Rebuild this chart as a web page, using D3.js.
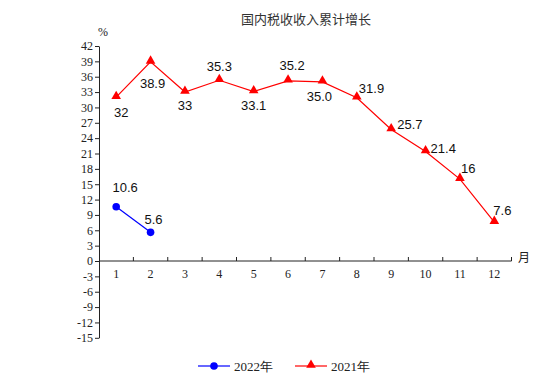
<!DOCTYPE html>
<html>
<head>
<meta charset="utf-8">
<script src="https://cdn.jsdelivr.net/npm/d3@7"></script>
<style>
  body { margin: 0; background: #fff; }
  svg { display: block; }
</style>
</head>
<body>
<script>
// data
var months = [1, 2, 3, 4, 5, 6, 7, 8, 9, 10, 11, 12];
var values2021 = [32, 38.9, 33, 35.3, 33.1, 35.2, 35.0, 31.9, 25.7, 21.4, 16, 7.6];
var labels2021 = ["32", "38.9", "33", "35.3", "33.1", "35.2", "35.0", "31.9", "25.7", "21.4", "16", "7.6"];
var values2022 = [10.6, 5.6];
var labels2022 = ["10.6", "5.6"];
var yTicks = [-15, -12, -9, -6, -3, 0, 3, 6, 9, 12, 15, 18, 21, 24, 27, 30, 33, 36, 39, 42];

// label placement: [dx, dy, anchor]
var place2021 = [[5,15,"middle"],[2,22,"middle"],[0,13,"middle"],[0,-14,"middle"],[0,14,"middle"],
  [4,-15,"middle"],[-3,15,"middle"],[2,-9,"start"],[6,-5,"start"],[5,-3,"start"],[1,-11,"start"],[-1,-12,"start"]];
var place2022 = [[9,-19,"middle"],[3,-13,"middle"]];

var W = 554, H = 392;
var svg = d3.select("body").append("svg").attr("width", W).attr("height", H);

var x = d3.scaleBand().domain(months).range([99, 511.5]);
var y = d3.scaleLinear().domain([-15, 42]).range([337.8, 46]);
var cx = function(m) { return x(m) + x.bandwidth() / 2; };

var serif = "'Liberation Serif', 'Times New Roman', serif";
var sans = "'Liberation Sans', Arial, sans-serif";
var cjk = "'Noto Sans CJK SC', sans-serif";

// title
svg.append("text").attr("x", 306).attr("y", 24).attr("text-anchor", "middle")
  .style("font-family", cjk).style("font-size", "13px").style("fill", "#333")
  .text("国内税收收入累计增长");

svg.append("text").attr("x", 103).attr("y", 36).attr("text-anchor", "middle")
  .style("font-family", serif).style("font-size", "12px").style("fill", "#222")
  .text("%");

// y axis
var yAxis = svg.append("g").attr("transform", "translate(99,0)")
  .call(d3.axisLeft(y).tickValues(yTicks).tickFormat(function(d) { return String(d); })
    .tickSize(4).tickPadding(2).tickSizeOuter(0));
yAxis.select(".domain").attr("stroke", "#222");
yAxis.selectAll(".tick line").attr("stroke", "#222");
yAxis.selectAll(".tick text").style("font-family", serif).style("font-size", "12px").attr("fill", "#222");

// x axis line at zero with ticks between months
var xg = svg.append("g");
xg.append("line").attr("x1", 99).attr("x2", 511.5).attr("y1", y(0)).attr("y2", y(0))
  .attr("stroke", "#222");
xg.selectAll("line.tk").data(months).enter().append("line").attr("class", "tk")
  .attr("x1", function(d) { return x(d) + x.bandwidth(); })
  .attr("x2", function(d) { return x(d) + x.bandwidth(); })
  .attr("y1", y(0)).attr("y2", y(0) - 4).attr("stroke", "#222");
xg.selectAll("text").data(months).enter().append("text")
  .attr("x", function(d) { return cx(d); }).attr("y", y(0) + 17)
  .attr("text-anchor", "middle").style("font-family", serif).style("font-size", "12px")
  .attr("fill", "#222").text(function(d) { return d; });
svg.append("text").attr("x", 524).attr("y", 262).attr("text-anchor", "middle")
  .style("font-family", cjk).style("font-size", "12px").style("fill", "#222").text("月");

var line = d3.line().x(function(d, i) { return cx(months[i]); }).y(function(d) { return y(d); });
var tri = d3.symbol().type(d3.symbolTriangle).size(40);

// 2021 series
svg.append("path").datum(values2021).attr("d", line).attr("fill", "none")
  .attr("stroke", "#ff0000").attr("stroke-width", 1.2);
svg.selectAll("path.m21").data(values2021).enter().append("path").attr("class", "m21")
  .attr("d", tri).attr("fill", "#ff0000")
  .attr("transform", function(d, i) { return "translate(" + cx(months[i]) + "," + (y(d) - 1) + ")"; });
svg.selectAll("text.l21").data(values2021).enter().append("text").attr("class", "l21")
  .attr("x", function(d, i) { return cx(months[i]) + place2021[i][0]; })
  .attr("y", function(d, i) { return y(d) + place2021[i][1]; })
  .attr("dy", "0.35em").attr("text-anchor", function(d, i) { return place2021[i][2]; })
  .style("font-family", sans).style("font-size", "13px").attr("fill", "#111")
  .text(function(d, i) { return labels2021[i]; });

// 2022 series
svg.append("path").datum(values2022).attr("d", line).attr("fill", "none")
  .attr("stroke", "#0000ff").attr("stroke-width", 1.2);
svg.selectAll("circle.m22").data(values2022).enter().append("circle").attr("class", "m22")
  .attr("cx", function(d, i) { return cx(months[i]); }).attr("cy", function(d) { return y(d); })
  .attr("r", 3.8).attr("fill", "#0000ff");
svg.selectAll("text.l22").data(values2022).enter().append("text").attr("class", "l22")
  .attr("x", function(d, i) { return cx(months[i]) + place2022[i][0]; })
  .attr("y", function(d, i) { return y(d) + place2022[i][1]; })
  .attr("dy", "0.35em").attr("text-anchor", function(d, i) { return place2022[i][2]; })
  .style("font-family", sans).style("font-size", "13px").attr("fill", "#111")
  .text(function(d, i) { return labels2022[i]; });

// legend
var legend = [
  { name: "2022年", color: "#0000ff", shape: "circle", x: 198 },
  { name: "2021年", color: "#ff0000", shape: "tri", x: 295 }
];
var lg = svg.selectAll("g.lg").data(legend).enter().append("g").attr("class", "lg")
  .attr("transform", function(d) { return "translate(" + d.x + ",366)"; });
lg.append("line").attr("x1", 0).attr("x2", 32).attr("stroke", function(d) { return d.color; })
  .attr("stroke-width", 1.2);
lg.each(function(d) {
  var g = d3.select(this);
  if (d.shape === "circle") g.append("circle").attr("cx", 16).attr("r", 3.8).attr("fill", d.color);
  else g.append("path").attr("d", tri).attr("transform", "translate(16,-1)").attr("fill", d.color);
});
lg.append("text").attr("x", 36).attr("dy", "0.35em")
  .style("font-family", serif).style("font-size", "13px").attr("fill", "#222")
  .text(function(d) { return d.name; });
</script>
</body>
</html>
